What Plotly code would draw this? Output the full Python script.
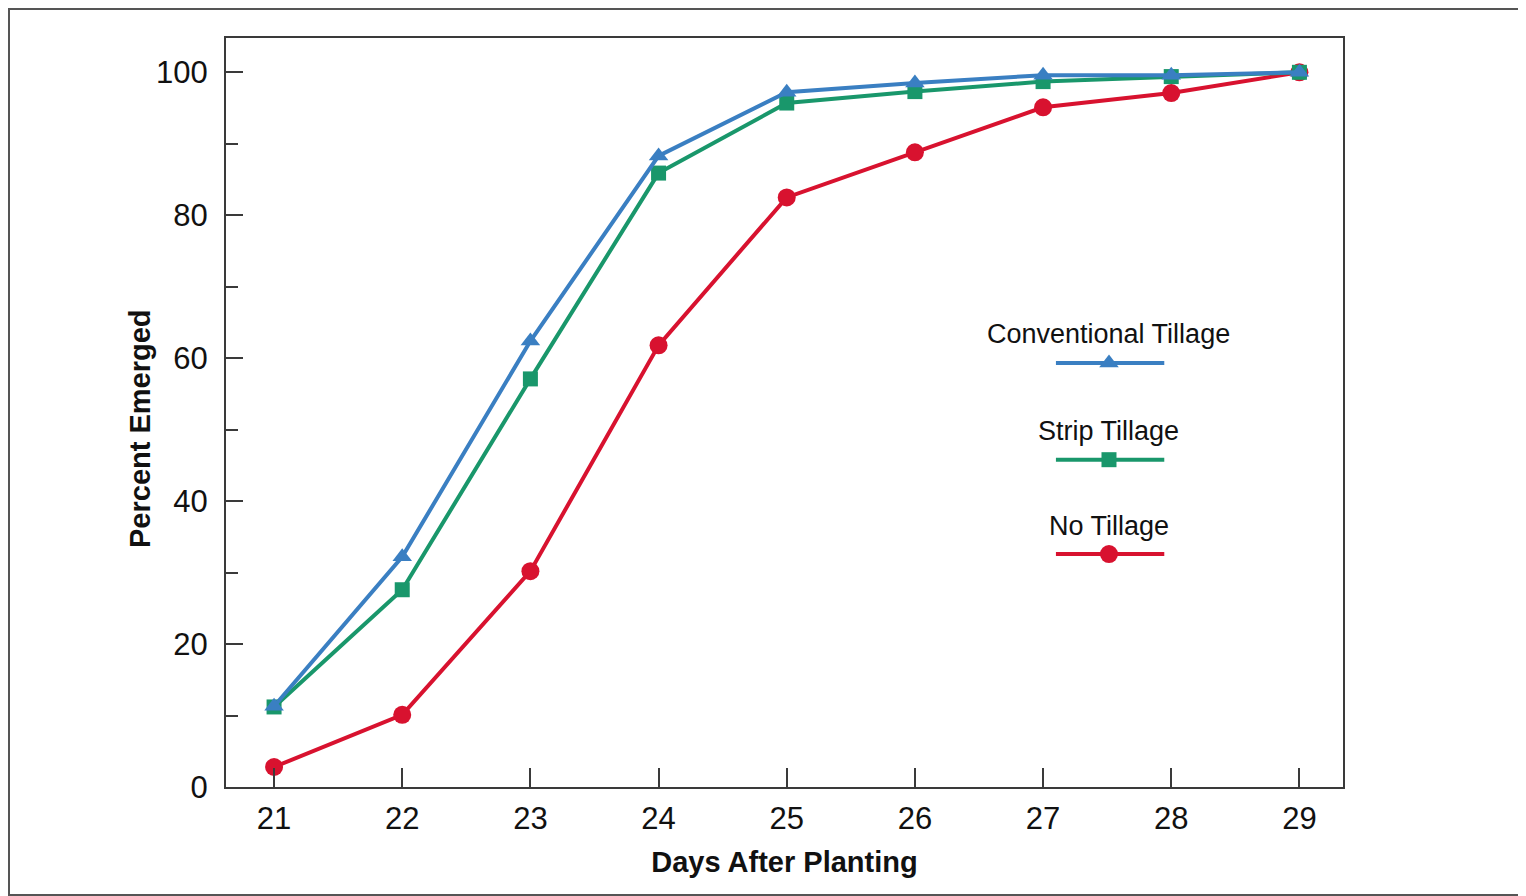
import plotly.graph_objects as go

days = [21, 22, 23, 24, 25, 26, 27, 28, 29]
conventional = [11.3, 32.2, 62.4, 88.3, 97.2, 98.5, 99.6, 99.6, 100]
strip = [11.2, 27.6, 57.1, 85.9, 95.7, 97.3, 98.7, 99.4, 100]
no_tillage = [2.8, 10.1, 30.2, 61.8, 82.5, 88.8, 95.1, 97.1, 100]

names = ["Conventional Tillage", "Strip Tillage", "No Tillage"]
colors = ["#3a7fc2", "#19976b", "#d8122f"]
symbols = ["triangle-up", "square", "circle"]
sizes = [17, 15, 18]
series = [conventional, strip, no_tillage]

FONT = "Liberation Sans, Arial, sans-serif"

fig = go.Figure()
for i in [2, 1, 0]:
    fig.add_trace(go.Scatter(
        x=days, y=series[i], mode="lines+markers", name=names[i],
        line=dict(color=colors[i], width=4),
        marker=dict(symbol=symbols[i], size=sizes[i], color=colors[i]),
        showlegend=False, cliponaxis=False))

# custom legend (text above a line sample) on an overlay axis
leg_y_text = [0.605, 0.475, 0.348]
leg_y_line = [0.566, 0.437, 0.311]
for i in range(3):
    fig.add_trace(go.Scatter(
        x=[0.743, 0.7905, 0.840], y=[leg_y_line[i]] * 3, xaxis="x2", yaxis="y2",
        mode="lines", line=dict(color=colors[i], width=4),
        showlegend=False, hoverinfo="skip"))
    fig.add_trace(go.Scatter(
        x=[0.7905], y=[leg_y_line[i]], xaxis="x2", yaxis="y2",
        mode="markers", marker=dict(symbol=symbols[i], size=sizes[i], color=colors[i]),
        showlegend=False, hoverinfo="skip"))
    fig.add_annotation(x=0.7905, y=leg_y_text[i], xref="x2", yref="y2",
                       text=names[i], showarrow=False,
                       font=dict(family=FONT, size=27, color="#111"),
                       xanchor="center", yanchor="middle")

axis_line = dict(showline=True, linecolor="#3a3a3a", linewidth=2, mirror=True,
                 showgrid=False, zeroline=False, automargin=False)

PW, PH = 1117, 749
L, T = 218, 30

# y-axis title as rotated annotation
fig.add_annotation(x=(132 - L) / PW, y=(786 - 8 - 420 - T) / PH * 0 + (778 - 420) / PH,
                   xref="paper", yref="paper", text="<b>Percent Emerged</b>",
                   textangle=-90, showarrow=False,
                   font=dict(family=FONT, size=29, color="#111"),
                   xanchor="center", yanchor="middle")

fig.update_layout(
    width=1526, height=896,
    paper_bgcolor="white", plot_bgcolor="white",
    margin=dict(l=L, r=1526 - L - PW, t=T, b=896 - T - PH),
    font=dict(family=FONT, color="#111"),
    xaxis=dict(range=[20.625, 29.34], tickvals=days, ticks="inside", ticklen=19,
               tickwidth=1.5, tickcolor="#3a3a3a", ticklabelstandoff=3,
               tickfont=dict(size=31, family=FONT),
               title=dict(text="<b>Days After Planting</b>", font=dict(size=29, family=FONT), standoff=16),
               **axis_line),
    yaxis=dict(range=[0, 104.8], tickvals=[0, 20, 40, 60, 80, 100], ticks="inside",
               ticklen=17, tickwidth=1.5, tickcolor="#3a3a3a", ticklabelstandoff=10,
               tickfont=dict(size=31, family=FONT),
               minor=dict(tickvals=[10, 30, 50, 70, 90], ticks="inside", ticklen=12,
                          tickwidth=1.5, tickcolor="#3a3a3a"),
               **axis_line),
    xaxis2=dict(overlaying="x", range=[0, 1], visible=False, fixedrange=True),
    yaxis2=dict(overlaying="y", range=[0, 1], visible=False, fixedrange=True),
    shapes=[dict(type="rect", xref="paper", yref="paper",
                 x0=-(L - 1) / PW, x1=1.3, y0=-(896 - T - PH - 9) / PH, y1=1 + (T - 1) / PH,
                 line=dict(color="#555", width=2), layer="below")],
)

fig.write_html("out.html")
